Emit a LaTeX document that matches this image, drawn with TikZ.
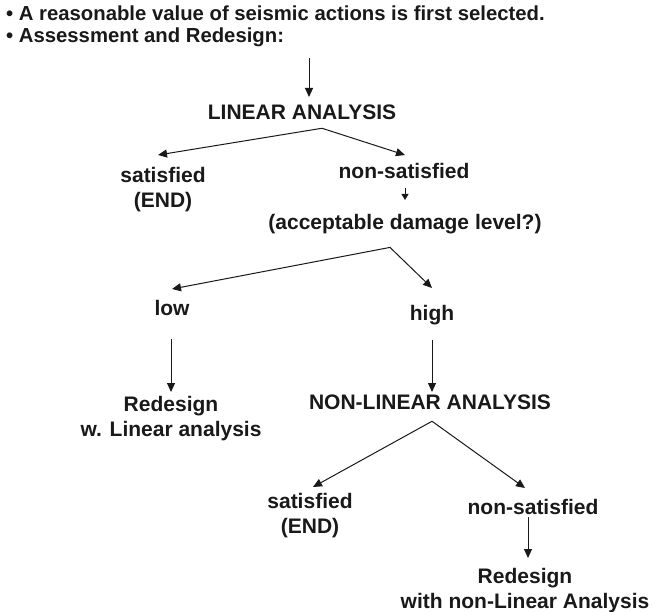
\documentclass[tikz,border=0pt]{standalone}
\usepackage{fontspec}
\setmainfont{Liberation Sans}
\usetikzlibrary{arrows.meta,calc}
\begin{document}
\begin{tikzpicture}[x=1pt,y=-1pt,
  every node/.style={font=\fontsize{21}{25}\selectfont\bfseries, text=black!90, inner sep=0pt, align=center},
  toptext/.style={anchor=base west, font=\fontsize{20.3}{24}\selectfont\bfseries},
  lbl/.style={anchor=north},
  arr/.style={draw=black!90, line width=1pt, -{Triangle[length=9pt,width=8pt]}},
  sarr/.style={draw=black!90, line width=1pt, -{Triangle[length=6pt,width=7pt]}},
  fork/.style={draw=black!90, line width=1pt}]
\useasboundingbox (0,0) rectangle (656,612);
\node[toptext] (t1) at (6,21) {\textbullet\ A reasonable value of seismic actions is first selected.};
\node[toptext] (t2) at (6,43) {\textbullet\ Assessment and Redesign:};
\node[lbl] (lin) at (302,105) {LINEAR ANALYSIS};
\node[lbl] (sat1) at (163,167) {satisfied\\(END)};
\node[lbl] (nsat1) at (404,163) {non-satisfied};
\node[lbl] (acc) at (405,214) {(acceptable damage level?)};
\node[lbl] (low) at (172,300) {low};
\node[lbl] (high) at (432,305) {high};
\node[lbl] (red1) at (171,396) {Redesign\\w. Linear analysis};
\node[lbl] (nlin) at (430,395) {NON-LINEAR ANALYSIS};
\node[lbl] (sat2) at (310,493) {satisfied\\(END)};
\node[lbl] (nsat2) at (533,499) {non-satisfied};
\node[lbl] (red2) at (525,568) {Redesign\\with non-Linear Analysis};
% connectors
\coordinate (start) at (309,58);
\draw[arr] (start) -- ([xshift=7pt,yshift=8pt]lin.north);
\coordinate (f1) at ([xshift=20pt,yshift=-8pt]lin.south);
\draw[arr] (f1) -- ([xshift=-5pt,yshift=12pt]sat1.north);
\draw[arr] (f1) -- ([xshift=1pt,yshift=8pt]nsat1.north);
\draw[sarr] ([xshift=1pt,yshift=-9pt]nsat1.south) -- ([yshift=14pt]acc.north);
\coordinate (f2) at ([xshift=-15pt,yshift=-18pt]acc.base);
\draw[arr] (f2) -- ([yshift=11pt]low.north);
\draw[arr] (f2) -- ([yshift=17pt]high.north);
\draw[arr] ([xshift=-1pt,yshift=-23pt]low.south) -- ([yshift=4pt]red1.north);
\draw[arr] ([yshift=-20pt]high.base) -- ([xshift=2pt,yshift=3pt]nlin.north);
\coordinate (f3) at ([xshift=2pt,yshift=-11pt]nlin.south);
\draw[arr] (f3) -- ([xshift=3pt,yshift=6pt]sat2.north);
\draw[arr] (f3) -- ([xshift=-8pt,yshift=11pt]nsat2.north);
\draw[arr] ([xshift=-5pt,yshift=-3pt]nsat2.base) -- ([xshift=3pt,yshift=10pt]red2.north);
\end{tikzpicture}
\end{document}
